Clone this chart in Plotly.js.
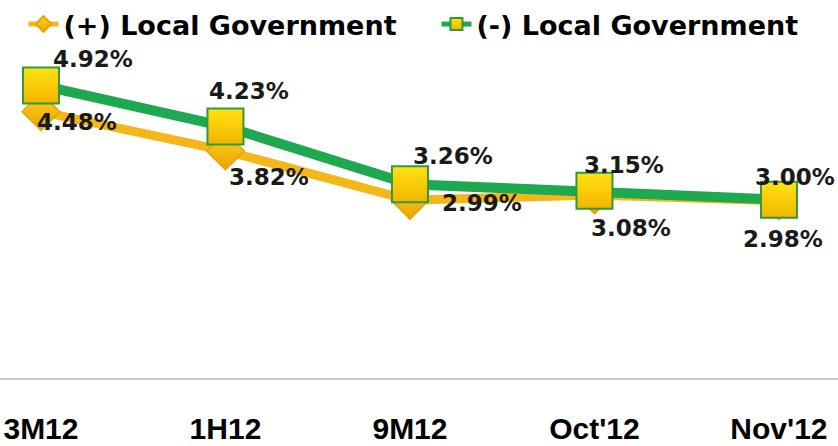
<!DOCTYPE html>
<html>
<head>
<meta charset="utf-8">
<script src="https://cdn.plot.ly/plotly-3.0.1.min.js"></script>
<style>html,body{margin:0;padding:0;background:#fff;}#chart{width:838px;height:446px;}</style>
</head>
<body>
<div id="chart"></div>
<script>
var categories = ["3M12", "1H12", "9M12", "Oct'12", "Nov'12"];
var plusName = "(+) Local Government";
var minusName = "(-) Local Government";
var plusValues = [4.48, 3.82, 2.99, 3.08, 2.98];
var minusValues = [4.92, 4.23, 3.26, 3.15, 3.00];

// label offsets (px) — styling only
var plusShiftX = [36, 44, 72, 37, 4];
var plusShiftY = [-10, -26, -3, -33, -38];
var minusShiftX = [52, 24, 43, 30, 16];
var minusShiftY = [26, 36, 28, 26, 23];

var idx = categories.map(function(_, i){ return i; });

var plusTrace = {
  x: idx, y: plusValues, name: plusName, type: 'scatter', mode: 'lines+markers',
  line: {color: '#f4b619', width: 9},
  marker: {symbol: 'diamond', size: 29, color: '#ffd21f',
           gradient: {type: 'vertical', color: '#eaa400'},
           line: {color: '#e3a50a', width: 1.5}},
  cliponaxis: false
};
var minusTrace = {
  x: idx, y: minusValues, name: minusName, type: 'scatter', mode: 'lines+markers',
  line: {color: '#1ea84f', width: 10},
  marker: {symbol: 'square', size: 36, color: '#ffe312',
           gradient: {type: 'vertical', color: '#f3b400'},
           line: {color: '#2f9a3c', width: 2}},
  cliponaxis: false
};

var labelFont = {family: 'DejaVu Sans', size: 23, color: '#1a1a1a', weight: 700};
var annotations = [];
plusValues.forEach(function(v, i){
  annotations.push({x: i, y: v, xref: 'x', yref: 'y', text: v.toFixed(2) + '%',
    showarrow: false, xanchor: 'center', yanchor: 'middle',
    xshift: plusShiftX[i], yshift: plusShiftY[i], font: labelFont});
});
minusValues.forEach(function(v, i){
  annotations.push({x: i, y: v, xref: 'x', yref: 'y', text: v.toFixed(2) + '%',
    showarrow: false, xanchor: 'center', yanchor: 'middle',
    xshift: minusShiftX[i], yshift: minusShiftY[i], font: labelFont});
});

var layout = {
  width: 838, height: 446,
  margin: {l: 0, r: 0, t: 51, b: 68, autoexpand: false},
  paper_bgcolor: '#ffffff', plot_bgcolor: '#ffffff',
  showlegend: true,
  legend: {orientation: 'h', xref: 'container', yref: 'container', x: 0.028, y: 1.0,
           xanchor: 'left', yanchor: 'top', bgcolor: 'rgba(0,0,0,0)',
           font: {family: 'DejaVu Sans', size: 27, color: '#000', weight: 700},
           itemsizing: 'constant', entrywidth: 368, entrywidthmode: 'pixels', tracegroupgap: 0},
  xaxis: {range: [-0.222, 4.32], tickvals: idx, ticktext: categories,
          showgrid: false, zeroline: false, showline: true, linecolor: '#cccccc', linewidth: 2,
          ticks: '', ticklabelstandoff: 23, fixedrange: true,
          tickfont: {family: 'Liberation Sans', size: 30, color: '#000', weight: 700}},
  yaxis: {range: [0, 5.5], visible: false, showgrid: false, zeroline: false, fixedrange: true},
  annotations: annotations
};

Plotly.newPlot('chart', [plusTrace, minusTrace], layout, {displayModeBar: false, staticPlot: true});
</script>
</body>
</html>
